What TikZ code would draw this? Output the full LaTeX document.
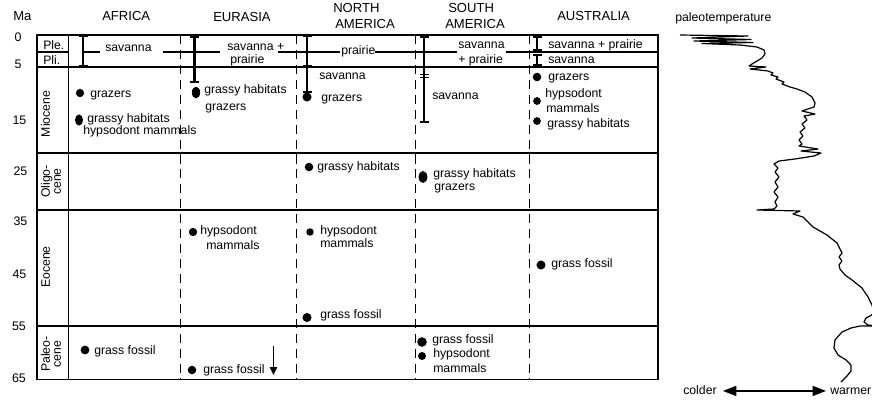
\documentclass[tikz,border=0pt]{standalone}
\usepackage{fontspec}
\setmainfont{Liberation Sans}
\usetikzlibrary{arrows.meta}
\newcommand\rngbar[3]{%
  \draw[rangebar] (#1,#2) -- (#1,#3);
  \draw[serifline] (#1-4.5,#2) -- (#1+4.5,#2) (#1-4.5,#3) -- (#1+4.5,#3);}
\begin{document}
\begin{tikzpicture}[x=0.75pt,y=-0.75pt,
  txt/.style={anchor=base west,inner sep=0pt,font=\fontsize{9.2}{10}\selectfont},
  num/.style={anchor=base,inner sep=0pt,font=\fontsize{9.3}{10}\selectfont},
  hdr/.style={anchor=base west,inner sep=0pt,font=\fontsize{9.8}{11}\selectfont},
  epoch/.style={inner sep=0pt,rotate=90,align=center,font=\fontsize{9.2}{8.3}\selectfont},
  tline/.style={line width=0.8pt},
  dline/.style={line width=0.65pt,dash pattern=on 6.8pt off 4.4pt},
  rangebar/.style={line width=1.6pt},
  serifline/.style={line width=1.2pt},
  dotfill/.style={fill=black},
  curve/.style={line width=0.9pt,line join=round}]
\useasboundingbox (0,0) rectangle (872,401);

% ---------- table frame ----------
\draw[tline] (37,35) rectangle (658,379.3);
\draw[tline] (68.3,35) -- (68.3,379.3);
\draw[tline] (37,67) -- (658,67);
\draw[tline] (37,153) -- (658,153);
\draw[tline] (37,210) -- (658,210);
\draw[tline] (37,326) -- (658,326);
% Ple / Pli boundary (interrupted by labels)
\draw[tline] (37,52) -- (68.3,52);
\draw[tline] (83,52) -- (100,52);
\draw[tline] (163,52) -- (220,52);
\draw[tline] (278,52) -- (340,52);
\draw[tline] (375,52) -- (457,52);
\draw[tline] (506,52) -- (658,52);
% dashed column separators
\foreach \cx in {180,296,415,529}
  \draw[dline] (\cx,35) -- (\cx,379.3);

% ---------- headers ----------
\node[hdr] (ma) at (13,20.5) {Ma};
\node[hdr] (hafrica) at (102,20.5) {AFRICA};
\node[hdr] (heurasia) at (213,21.5) {EURASIA};
\node[hdr] (hnorth) at (333,12.3) {NORTH};
\node[hdr] (hnamerica) at (335,28.3) {AMERICA};
\node[hdr] (hsouth) at (448,12.3) {SOUTH};
\node[hdr] (hsamerica) at (445,28.3) {AMERICA};
\node[hdr] (haustralia) at (557,20) {AUSTRALIA};
\node[txt] (paleotemp) at (675,21.5) {paleotemperature};

% ---------- Ma scale ----------
\node[num] (m0) at (18,41.5) {0};
\node[num] (m5) at (18,68) {5};
\node[num] (m15) at (19.5,124) {15};
\node[num] (m25) at (20.5,175) {25};
\node[num] (m35) at (20.5,225.5) {35};
\node[num] (m45) at (19.5,278) {45};
\node[num] (m55) at (19,330) {55};
\node[num] (m65) at (19,382) {65};

% ---------- epochs ----------
\node[txt] (ple) at (43,49.5) {Ple.};
\node[txt] (pli) at (43,64) {Pli.};
\node[epoch,anchor=base] (mio) at (50,114) {Miocene};
\node[epoch,anchor=center] (oli) at (51,181.5) {Oligo-\\cene};
\node[epoch,anchor=base] (eoc) at (50,267) {Eocene};
\node[epoch,anchor=center] (pal) at (51,354) {Paleo-\\cene};

% ---------- range bars ----------
\rngbar{83}{36}{66}
\rngbar{194.5}{37}{82}
\rngbar{307}{36}{92}
\draw[serifline] (302.5,66) -- (311.5,66);
\rngbar{424}{37}{122}
\draw[serifline] (419.5,74.5) -- (428.5,74.5) (419.5,77.5) -- (428.5,77.5);
\rngbar{537}{37}{50}
\rngbar{537}{55}{65}

% ---------- dots ----------
\fill[dotfill] (80,93) circle[radius=3.1pt];
\fill[dotfill] (79,120) ellipse[x radius=3pt,y radius=4.2pt];
\fill[dotfill] (85,350) circle[radius=3.3pt];
\fill[dotfill] (196,92.5) ellipse[x radius=3.1pt,y radius=4.4pt];
\fill[dotfill] (193,232) circle[radius=3.1pt];
\fill[dotfill] (192,370) circle[radius=3.2pt];
\fill[dotfill] (307,97) circle[radius=3.4pt];
\fill[dotfill] (309,167) circle[radius=3.2pt];
\fill[dotfill] (310,232) circle[radius=2.8pt];
\fill[dotfill] (307,317.5) circle[radius=3.4pt];
\fill[dotfill] (423,177) ellipse[x radius=3.3pt,y radius=4.5pt];
\fill[dotfill] (422,342) circle[radius=3.6pt];
\fill[dotfill] (422,356) circle[radius=3pt];
\fill[dotfill] (537,77) circle[radius=3.2pt];
\fill[dotfill] (537,101) circle[radius=2.9pt];
\fill[dotfill] (537,121) circle[radius=2.9pt];
\fill[dotfill] (541,265) circle[radius=3.4pt];

% ---------- Africa ----------
\node[txt] (af1) at (105,51) {savanna};
\node[txt] (af2) at (90,97) {grazers};
\node[txt] (af3) at (87,122) {grassy habitats};
\node[txt] (af4) at (83,134) {hypsodont mammals};
\node[txt] (af5) at (94,354) {grass fossil};

% ---------- Eurasia ----------
\node[txt] (eu1) at (227,50) {savanna +};
\node[txt] (eu2) at (230,63) {prairie};
\node[txt] (eu3) at (204,93) {grassy habitats};
\node[txt] (eu4) at (205,110.5) {grazers};
\node[txt] (eu5) at (200,234) {hypsodont};
\node[txt] (eu6) at (206,249) {mammals};
\node[txt] (eu7) at (203,373.5) {grass fossil};
\coordinate (arrtop) at (273.5,346);
\coordinate (arrbot) at (273.5,375);
\draw[line width=1.3pt,-{Triangle[length=6pt,width=5.5pt]}] (arrtop) -- (arrbot);

% ---------- North America ----------
\node[txt] (na1) at (341,54) {prairie};
\node[txt] (na2) at (319,79) {savanna};
\node[txt] (na3) at (321,101.5) {grazers};
\node[txt] (na4) at (317,170) {grassy habitats};
\node[txt] (na5) at (320,234) {hypsodont};
\node[txt] (na6) at (320,247.5) {mammals};
\node[txt] (na7) at (320,318.5) {grass fossil};

% ---------- South America ----------
\node[txt] (sa1) at (458,48) {savanna};
\node[txt] (sa2) at (458,63) {+ prairie};
\node[txt] (sa3) at (432,99) {savanna};
\node[txt] (sa4) at (433,177.5) {grassy habitats};
\node[txt] (sa5) at (434,190) {grazers};
\node[txt] (sa6) at (432,343) {grass fossil};
\node[txt] (sa7) at (433,357.5) {hypsodont};
\node[txt] (sa8) at (433,372) {mammals};

% ---------- Australia ----------
\node[txt] (au1) at (548,48) {savanna + prairie};
\node[txt] (au2) at (548,63) {savanna};
\node[txt] (au3) at (548,80) {grazers};
\node[txt] (au4) at (545,97) {hypsodont};
\node[txt] (au5) at (546,112) {mammals};
\node[txt] (au6) at (547,127) {grassy habitats};
\node[txt] (au7) at (551,267) {grass fossil};

% ---------- paleotemperature curve ----------
\draw[curve] plot coordinates {
(680,35) (748,36) (692,38) (751,39.5) (694,41) (753,42.5) (702,43.5) (740,45)
(757,47) (764,50) (765,54) (762,58) (757,61) (752,64) (749,66) (766,67) (750,69)
(768,71) (773,73) (771,75) (778,77) (776,79) (784,82) (782,84) (790,87) (797,89)
(805,92) (812,97) (815,103) (814,107) (802,111) (815,114) (804,116) (807,120)
(802,124) (805,128) (800,132) (803,136) (799,140) (802,144) (799,146) (818,149)
(801,151) (821,153) (814,156) (795,159) (779,161) (774,164) (778,168) (775,172)
(779,177) (775,182) (778,187) (774,192) (778,197) (775,202) (777,206) (774,209)
(757,210) (800,211) (793,214) (803,217) (813,227) (827,235) (837,243) (842,253)
(839,257) (842,261) (839,265) (840,269) (845,275) (852,280) (862,288) (868,297)
(872,305) (874,313) (870,316) (866,318) (864,322) (868,325) (878,326) (860,326)
(851,328) (842,332) (835,340) (834,348) (838,355) (846,360) (851,365) (851,371)
(847,376) (841,382)};

% ---------- colder / warmer ----------
\node[txt] (colder) at (683,394) {colder};
\node[txt] (warmer) at (830,394) {warmer};
\draw[line width=1.1pt,{Triangle[length=10pt,width=7.5pt]}-{Triangle[length=10pt,width=7.5pt]}]
  ([shift={(4.5pt,2.3pt)}]colder.base east) -- ([shift={(-3pt,2.3pt)}]warmer.base west);
\end{tikzpicture}
\end{document}
